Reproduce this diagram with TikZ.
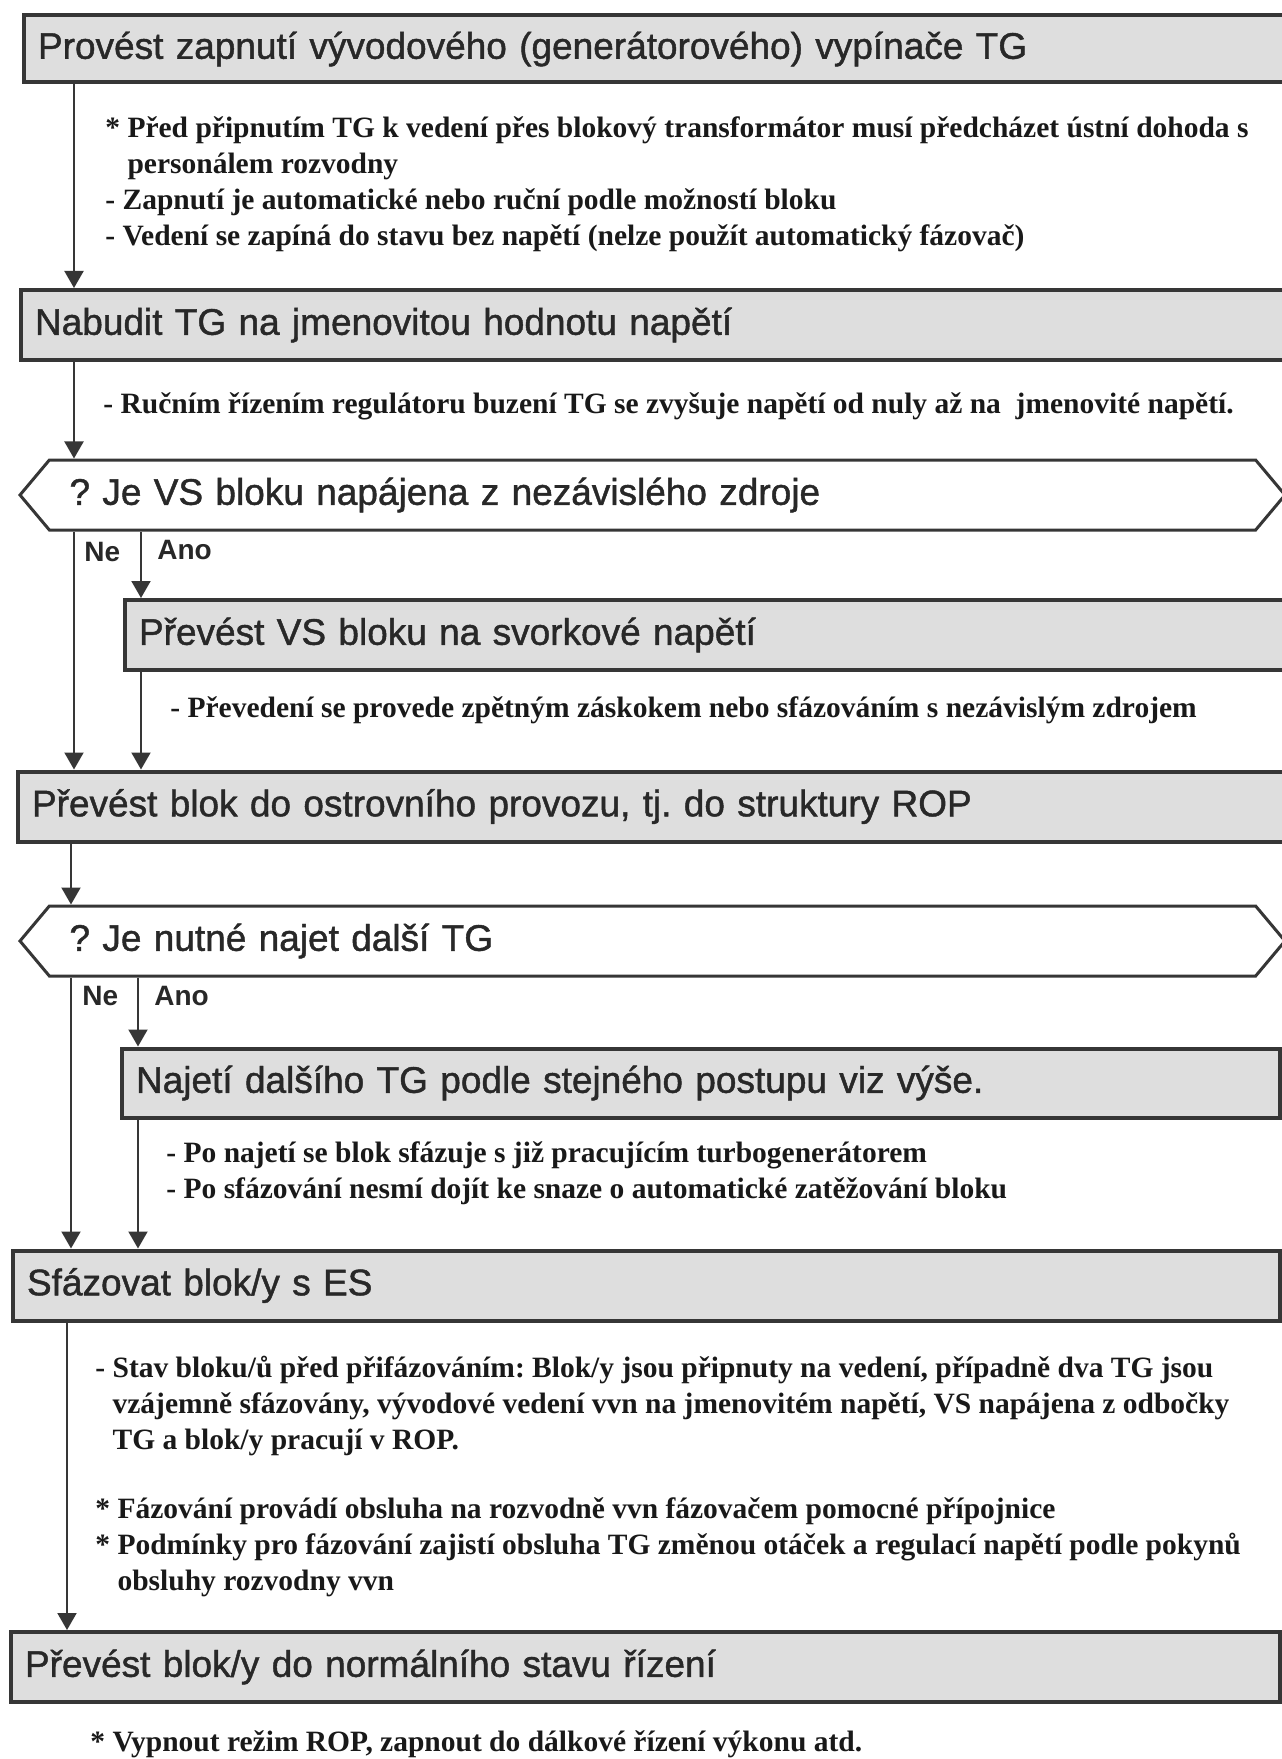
\documentclass[tikz,border=0pt]{standalone}
\usepackage{fontspec}
\setmainfont{Liberation Serif}
\newfontfamily\arialfont[FakeBold=1.2]{Liberation Sans}
\newfontfamily\arialbold{Liberation Sans Bold}
\frenchspacing
\usetikzlibrary{arrows.meta, shapes.symbols}

\definecolor{linegray}{HTML}{363636}
\definecolor{boxgray}{HTML}{DEDEDE}
\definecolor{inkgray}{HTML}{282828}

\begin{document}
\begin{tikzpicture}[
    x=0.5pt, y=-0.5pt, % one unit = one pixel of the scan
    stepbox/.style={draw=linegray, fill=boxgray, line width=2pt, anchor=north west,
        inner xsep=7pt, inner ysep=0pt, minimum height=35pt, align=left,
        text=inkgray, font=\arialfont\fontsize{18.5}{22}\selectfont},
    askbox/.style={draw=linegray, fill=white, line width=1.5pt, signal,
        signal to=west and east, signal pointer angle=100, minimum height=35pt,
        inner xsep=10pt, inner ysep=0pt, align=left,
        text=inkgray, font=\arialfont\fontsize{18.5}{22}\selectfont},
    notetext/.style={anchor=north west, inner sep=0pt, align=left, text=black!90,
        font=\bfseries\fontsize{14.75}{18}\selectfont},
    branchlbl/.style={anchor=base west, inner sep=0pt, text=inkgray,
        font=\arialbold\fontsize{14}{16}\selectfont},
    flow/.style={-{Triangle[width=9.5pt, length=8.5pt]}, draw=linegray, line width=1pt}
]

\useasboundingbox (0,0) rectangle (1281,1759);

% columns of the connectors
\coordinate (colA1) at (74,0);
\coordinate (colB1) at (141,0);
\coordinate (colA2) at (71,0);
\coordinate (colB2) at (138,0);
\coordinate (colA3) at (67,0);

% Steps and notes
\node[stepbox, text width=620pt, minimum height=33.5pt] (b1) at (22,13.5) {Provést zapnutí vývodového (generátorového) vypínače TG};
\node[notetext] (n1) at (105,112) {\strut* Před připnutím TG k vedení přes blokový transformátor musí předcházet ústní dohoda s\\\hphantom{* }personálem rozvodny\\- Zapnutí je automatické nebo ruční podle možností bloku\\- Vedení se zapíná do stavu bez napětí (nelze použít automatický fázovač)};

\node[stepbox, text width=621.5pt] (b2) at (19,288) {Nabudit TG na jmenovitou hodnotu napětí};
\node[notetext] (n2) at (103,388) {\strut- Ručním řízením regulátoru buzení TG se zvyšuje napětí od nuly až na \ jmenovité napětí.};

\node[askbox, minimum width=632.5pt, text width=583pt] (q1) at (652.5,495) {? Je VS bloku napájena z nezávislého zdroje};
\node[branchlbl] (ne1) at (84,561) {Ne};
\node[branchlbl] (ano1) at (157,559) {Ano};

\node[stepbox, text width=569.5pt] (b3) at (123,598) {Převést VS bloku na svorkové napětí};
\node[notetext] (n3) at (170,692) {\strut- Převedení se provede zpětným záskokem nebo sfázováním s nezávislým zdrojem};

\node[stepbox, text width=623pt] (b4) at (16,769.5) {Převést blok do ostrovního provozu, tj. do struktury ROP};

\node[askbox, minimum width=632.5pt, text width=583pt] (q2) at (652.5,941) {? Je nutné najet další TG};
\node[branchlbl] (ne2) at (82,1005) {Ne};
\node[branchlbl] (ano2) at (154,1005) {Ano};

\node[stepbox, text width=565pt, minimum height=34.5pt] (b5) at (120,1046.5) {Najetí dalšího TG podle stejného postupu viz výše.};
\node[notetext] (n5) at (166,1137) {\strut- Po najetí se blok sfázuje s již pracujícím turbogenerátorem\\- Po sfázování nesmí dojít ke snaze o automatické zatěžování bloku};

\node[stepbox, text width=619.5pt] (b6) at (11,1248.5) {Sfázovat blok/y s ES};
\node[notetext] (n6) at (95,1352) {\strut- Stav bloku/ů před přifázováním: Blok/y jsou připnuty na vedení, případně dva TG jsou\\\hphantom{- }vzájemně sfázovány, vývodové vedení vvn na jmenovitém napětí, VS napájena z odbočky\\\hphantom{- }TG a blok/y pracují v ROP.};
\node[notetext] (n6b) at (95,1493) {\strut* Fázování provádí obsluha na rozvodně vvn fázovačem pomocné přípojnice\\* Podmínky pro fázování zajistí obsluha TG změnou otáček a regulací napětí podle pokynů\\\hphantom{* }obsluhy rozvodny vvn};

\node[stepbox, text width=620.5pt] (b7) at (9,1630) {Převést blok/y do normálního stavu řízení};
\node[notetext] (n7) at (90,1726) {\strut* Vypnout režim ROP, zapnout do dálkové řízení výkonu atd.};

% Connectors
\draw[flow] (b1.south -| colA1) -- (b2.north -| colA1);
\draw[flow] (b2.south -| colA1) -- (q1.north -| colA1);
\draw[flow] (q1.south -| colA1) -- (b4.north -| colA1);
\draw[flow] (q1.south -| colB1) -- (b3.north -| colB1);
\draw[flow] (b3.south -| colB1) -- (b4.north -| colB1);
\draw[flow] (b4.south -| colA2) -- (q2.north -| colA2);
\draw[flow] (q2.south -| colA2) -- (b6.north -| colA2);
\draw[flow] (q2.south -| colB2) -- (b5.north -| colB2);
\draw[flow] (b5.south -| colB2) -- (b6.north -| colB2);
\draw[flow] (b6.south -| colA3) -- (b7.north -| colA3);

\end{tikzpicture}
\end{document}
